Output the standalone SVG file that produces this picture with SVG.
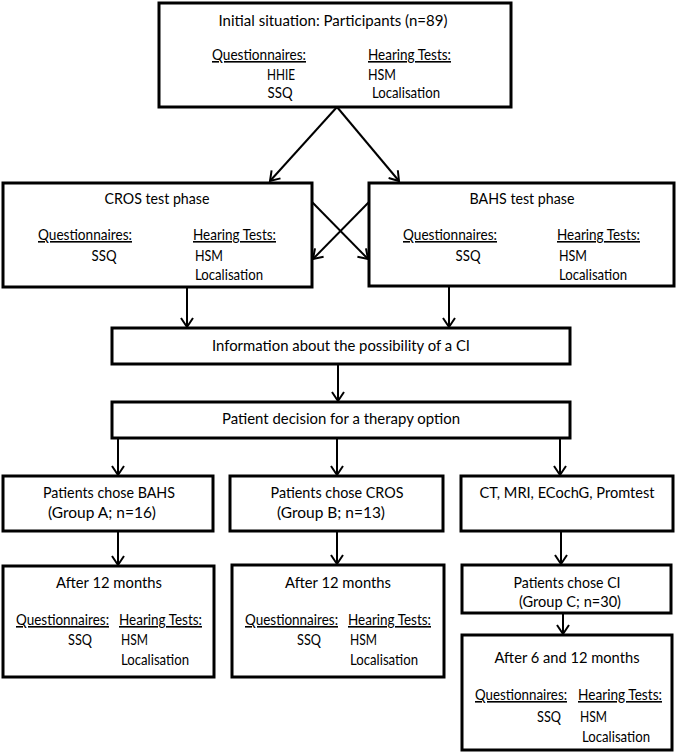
<svg xmlns="http://www.w3.org/2000/svg" width="676" height="754" viewBox="0 0 676 754">
<defs>
<marker id="ah" markerUnits="userSpaceOnUse" markerWidth="14" markerHeight="14" viewBox="0 0 14 14" refX="12" refY="7" orient="auto">
<path d="M3,1 L12,7 L3,13" fill="none" stroke="#000" stroke-width="2"/>
</marker>
<style>
.box{fill:#fff;stroke:#000;stroke-width:3}
.t{font-family:Lato,"Open Sans","Liberation Sans",sans-serif;font-size:16px;fill:#000}
.c{text-anchor:middle}
.u{text-decoration:underline}
.ln{stroke:#000;stroke-width:2;fill:none;marker-end:url(#ah)}
</style>
</defs>
<rect width="676" height="754" fill="#fff"/>
<g id="connectors">
<line class="ln" x1="337" y1="107" x2="270" y2="181"/>
<line class="ln" x1="337" y1="107" x2="399" y2="181"/>
<line class="ln" x1="312" y1="202" x2="368" y2="259"/>
<line class="ln" x1="369" y1="202" x2="313" y2="259"/>
<line class="ln" x1="187" y1="287" x2="187" y2="327"/>
<line class="ln" x1="449" y1="286" x2="449" y2="327"/>
<line class="ln" x1="338" y1="364" x2="338" y2="401"/>
<line class="ln" x1="118" y1="438" x2="118" y2="475"/>
<line class="ln" x1="337" y1="438" x2="337" y2="475"/>
<line class="ln" x1="560" y1="438" x2="560" y2="475"/>
<line class="ln" x1="118" y1="531" x2="118" y2="565"/>
<line class="ln" x1="337" y1="531" x2="337" y2="564"/>
<line class="ln" x1="561" y1="531" x2="561" y2="564"/>
<line class="ln" x1="563" y1="613" x2="563" y2="634"/>
</g>
<g id="initial">
<rect class="box" x="159" y="3" width="352" height="104"/>
<text class="t c" x="333" y="26" textLength="229" lengthAdjust="spacingAndGlyphs">Initial situation: Participants (n=89)</text>
<text class="t u" x="212" y="60" textLength="94" lengthAdjust="spacingAndGlyphs">Questionnaires:</text>
<text class="t u" x="368" y="60" textLength="83" lengthAdjust="spacingAndGlyphs">Hearing Tests:</text>
<text class="t c" x="281" y="80" textLength="28" lengthAdjust="spacingAndGlyphs">HHIE</text>
<text class="t c" x="280" y="98" textLength="25" lengthAdjust="spacingAndGlyphs">SSQ</text>
<text class="t" x="368" y="80" textLength="28" lengthAdjust="spacingAndGlyphs">HSM</text>
<text class="t" x="372" y="98" textLength="68" lengthAdjust="spacingAndGlyphs">Localisation</text>
</g>
<g id="cros">
<rect class="box" x="3" y="183" width="309" height="104"/>
<text class="t c" x="157" y="204" textLength="105" lengthAdjust="spacingAndGlyphs">CROS test phase</text>
<text class="t u" x="38" y="240" textLength="94" lengthAdjust="spacingAndGlyphs">Questionnaires:</text>
<text class="t u" x="193" y="240" textLength="83" lengthAdjust="spacingAndGlyphs">Hearing Tests:</text>
<text class="t c" x="104" y="261" textLength="25" lengthAdjust="spacingAndGlyphs">SSQ</text>
<text class="t" x="195" y="261" textLength="28" lengthAdjust="spacingAndGlyphs">HSM</text>
<text class="t" x="195" y="280" textLength="68" lengthAdjust="spacingAndGlyphs">Localisation</text>
</g>
<g id="bahs">
<rect class="box" x="369" y="183" width="305" height="103"/>
<text class="t c" x="522" y="204" textLength="105" lengthAdjust="spacingAndGlyphs">BAHS test phase</text>
<text class="t u" x="403" y="240" textLength="94" lengthAdjust="spacingAndGlyphs">Questionnaires:</text>
<text class="t u" x="557" y="240" textLength="83" lengthAdjust="spacingAndGlyphs">Hearing Tests:</text>
<text class="t c" x="468" y="261" textLength="25" lengthAdjust="spacingAndGlyphs">SSQ</text>
<text class="t" x="559" y="261" textLength="28" lengthAdjust="spacingAndGlyphs">HSM</text>
<text class="t" x="559" y="280" textLength="68" lengthAdjust="spacingAndGlyphs">Localisation</text>
</g>
<g id="info">
<rect class="box" x="112" y="328" width="458" height="36"/>
<text class="t c" x="341" y="351" textLength="258" lengthAdjust="spacingAndGlyphs">Information about the possibility of a CI</text>
</g>
<g id="decision">
<rect class="box" x="112" y="402" width="458" height="36"/>
<text class="t c" x="341" y="424" textLength="238" lengthAdjust="spacingAndGlyphs">Patient decision for a therapy option</text>
</g>
<g id="groupA">
<rect class="box" x="3" y="476" width="210" height="55"/>
<text class="t c" x="109" y="498" textLength="132" lengthAdjust="spacingAndGlyphs">Patients chose BAHS</text>
<text class="t c" x="102" y="518" textLength="108" lengthAdjust="spacingAndGlyphs">(Group A; n=16)</text>
</g>
<g id="groupB">
<rect class="box" x="230" y="476" width="213" height="55"/>
<text class="t c" x="337" y="498" textLength="133" lengthAdjust="spacingAndGlyphs">Patients chose CROS</text>
<text class="t c" x="331" y="518" textLength="108" lengthAdjust="spacingAndGlyphs">(Group B; n=13)</text>
</g>
<g id="tests">
<rect class="box" x="461" y="476" width="212" height="55"/>
<text class="t c" x="567" y="498" textLength="175" lengthAdjust="spacingAndGlyphs">CT, MRI, ECochG, Promtest</text>
</g>
<g id="afterA">
<rect class="box" x="3" y="566" width="211" height="111"/>
<text class="t c" x="109" y="588" textLength="106" lengthAdjust="spacingAndGlyphs">After 12 months</text>
<text class="t u" x="16" y="625" textLength="93" lengthAdjust="spacingAndGlyphs">Questionnaires:</text>
<text class="t u" x="119" y="625" textLength="83" lengthAdjust="spacingAndGlyphs">Hearing Tests:</text>
<text class="t c" x="80" y="645" textLength="24" lengthAdjust="spacingAndGlyphs">SSQ</text>
<text class="t" x="121" y="645" textLength="27" lengthAdjust="spacingAndGlyphs">HSM</text>
<text class="t" x="121" y="665" textLength="68" lengthAdjust="spacingAndGlyphs">Localisation</text>
</g>
<g id="afterB">
<rect class="box" x="232" y="565" width="212" height="112"/>
<text class="t c" x="338" y="588" textLength="106" lengthAdjust="spacingAndGlyphs">After 12 months</text>
<text class="t u" x="245" y="625" textLength="93" lengthAdjust="spacingAndGlyphs">Questionnaires:</text>
<text class="t u" x="348" y="625" textLength="83" lengthAdjust="spacingAndGlyphs">Hearing Tests:</text>
<text class="t c" x="309" y="645" textLength="24" lengthAdjust="spacingAndGlyphs">SSQ</text>
<text class="t" x="350" y="645" textLength="27" lengthAdjust="spacingAndGlyphs">HSM</text>
<text class="t" x="350" y="665" textLength="68" lengthAdjust="spacingAndGlyphs">Localisation</text>
</g>
<g id="groupC">
<rect class="box" x="462" y="565" width="209" height="48"/>
<text class="t c" x="567" y="588" textLength="107" lengthAdjust="spacingAndGlyphs">Patients chose CI</text>
<text class="t c" x="570" y="607" textLength="102" lengthAdjust="spacingAndGlyphs">(Group C; n=30)</text>
</g>
<g id="afterC">
<rect class="box" x="462" y="635" width="210" height="115"/>
<text class="t c" x="567" y="663" textLength="145" lengthAdjust="spacingAndGlyphs">After 6 and 12 months</text>
<text class="t u" x="475" y="700" textLength="92" lengthAdjust="spacingAndGlyphs">Questionnaires:</text>
<text class="t u" x="578" y="700" textLength="84" lengthAdjust="spacingAndGlyphs">Hearing Tests:</text>
<text class="t c" x="549" y="722" textLength="24" lengthAdjust="spacingAndGlyphs">SSQ</text>
<text class="t" x="580" y="722" textLength="27" lengthAdjust="spacingAndGlyphs">HSM</text>
<text class="t" x="582" y="742" textLength="68" lengthAdjust="spacingAndGlyphs">Localisation</text>
</g>
</svg>
